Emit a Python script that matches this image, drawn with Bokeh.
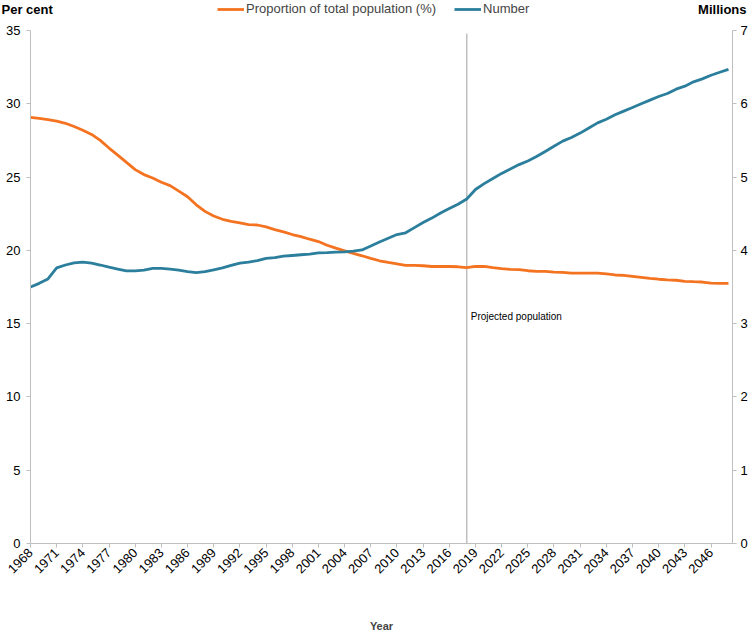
from bokeh.plotting import figure
from bokeh.layouts import column
from bokeh.models import Range1d, LinearAxis, FixedTicker, Legend, LegendItem, Label, ColumnDataSource
from bokeh.core.properties import value
from bokeh.embed import file_html
from bokeh.resources import INLINE
import math

years = list(range(1968, 2049))

proportion_pct = [
    29.08, 29.01, 28.92, 28.81, 28.67, 28.45, 28.20, 27.91, 27.50, 26.98,
    26.50, 26.00, 25.51, 25.17, 24.94, 24.65, 24.42, 24.04, 23.66, 23.11,
    22.66, 22.34, 22.12, 21.98, 21.87, 21.76, 21.73, 21.60, 21.42, 21.26,
    21.08, 20.94, 20.76, 20.60, 20.35, 20.15, 19.97, 19.79, 19.63, 19.45,
    19.29, 19.18, 19.08, 18.97, 18.97, 18.95, 18.90, 18.90, 18.90, 18.88,
    18.82, 18.90, 18.90, 18.82, 18.75, 18.70, 18.68, 18.61, 18.57, 18.57,
    18.52, 18.50, 18.45, 18.45, 18.45, 18.45, 18.39, 18.32, 18.30, 18.23,
    18.16, 18.09, 18.03, 17.98, 17.96, 17.89, 17.86, 17.84, 17.77, 17.75,
    17.75,
]

number_millions = [
    3.50, 3.55, 3.61, 3.76, 3.80, 3.83, 3.84, 3.826, 3.80, 3.77,
    3.745, 3.72, 3.72, 3.73, 3.755, 3.755, 3.745, 3.73, 3.71, 3.695,
    3.71, 3.735, 3.76, 3.795, 3.826, 3.84, 3.86, 3.89, 3.90, 3.92,
    3.93, 3.94, 3.95, 3.966, 3.97, 3.975, 3.98, 3.99, 4.006, 4.06,
    4.115, 4.166, 4.216, 4.24, 4.31, 4.38, 4.44, 4.51, 4.57, 4.63,
    4.70, 4.83, 4.91, 4.98, 5.05, 5.11, 5.17, 5.22, 5.28, 5.35,
    5.42, 5.49, 5.54, 5.60, 5.67, 5.74, 5.79, 5.85, 5.90, 5.95,
    6.00, 6.05, 6.10, 6.14, 6.20, 6.24, 6.30, 6.34, 6.39, 6.43,
    6.47,
]

x_ticks = list(range(1968, 2047, 3))
left_ticks = [0, 5, 10, 15, 20, 25, 30, 35]
right_ticks = [0, 1, 2, 3, 4, 5, 6, 7]
projection_year = 2018
projection_label = "Projected population"
series_labels = ["Proportion of total population (%)", "Number"]
left_title = "Per cent"
right_title = "Millions"
x_title = "Year"

ORANGE = "#f47321"
BLUE = "#2b7f9c"
GREY = "#bfbfbf"
FONT = "Liberation Sans"

src = ColumnDataSource(dict(year=years, pct=proportion_pct, num=number_millions))

# ---------- header strip (axis titles + legend) ----------
head = figure(width=750, height=22, output_backend="svg", toolbar_location=None,
              x_range=Range1d(0, 750), y_range=Range1d(0, 22),
              min_border_left=0, min_border_right=0, min_border_top=0, min_border_bottom=0,
              x_axis_location=None, y_axis_location=None, frame_align=False)
head.outline_line_color = None
head.xgrid.visible = False
head.ygrid.visible = False
head.extra_y_ranges = {"hidden": Range1d(1000, 1001)}
head.text(x=[1], y=[13], text=[left_title], text_font=value(FONT), text_font_size="13px",
          text_font_style="bold", text_baseline="middle", text_align="left", text_color="#000000")
head.text(x=[746], y=[13], text=[right_title], text_font=value(FONT), text_font_size="13px",
          text_font_style="bold", text_baseline="middle", text_align="right", text_color="#000000")
h_pct = head.line("year", "pct", source=src, line_color=ORANGE, line_width=2.8, y_range_name="hidden")
h_num = head.line("year", "num", source=src, line_color=BLUE, line_width=2.8, y_range_name="hidden")
legend = Legend(items=[LegendItem(label=series_labels[0], renderers=[h_pct]),
                       LegendItem(label=series_labels[1], renderers=[h_num])],
                orientation="horizontal", location=(217, 6),
                label_text_font=FONT, label_text_font_size="13px",
                glyph_width=27, glyph_height=14, label_standoff=2, spacing=18,
                padding=0, margin=0, border_line_alpha=0, background_fill_alpha=0,
                label_height=14)
head.add_layout(legend, "center")

# ---------- main chart ----------
p = figure(width=750, height=613, output_backend="svg", toolbar_location=None,
           x_range=Range1d(1968, 2048.46), y_range=Range1d(0, 35),
           min_border_left=30, min_border_right=17, min_border_top=8, min_border_bottom=89,
           x_axis_location=None, y_axis_location=None, frame_align=False)
p.extra_y_ranges = {"millions": Range1d(0, 7)}
p.outline_line_color = None
p.xgrid.visible = False
p.ygrid.visible = False

def style_axis(ax):
    ax.axis_line_color = GREY
    ax.major_tick_line_color = GREY
    ax.minor_tick_line_color = None
    ax.major_tick_in = 0
    ax.major_tick_out = 4
    ax.major_label_text_font = FONT
    ax.major_label_text_font_size = "13px"
    ax.major_label_text_color = "#000000"

xaxis = LinearAxis(ticker=FixedTicker(ticks=x_ticks))
style_axis(xaxis)
xaxis.major_label_orientation = math.pi / 4
xaxis.major_label_standoff = 3
xaxis.axis_label = x_title
xaxis.axis_label_text_font = FONT
xaxis.axis_label_text_font_size = "11px"
xaxis.axis_label_text_font_style = "bold"
xaxis.axis_label_standoff = 40
p.add_layout(xaxis, "below")

laxis = LinearAxis(ticker=FixedTicker(ticks=left_ticks))
style_axis(laxis)
laxis.major_label_standoff = 6
p.add_layout(laxis, "left")

raxis = LinearAxis(y_range_name="millions", ticker=FixedTicker(ticks=right_ticks))
style_axis(raxis)
raxis.major_label_standoff = 4
p.add_layout(raxis, "right")

p.segment(x0=[projection_year], y0=[0], x1=[projection_year], y1=[34.8],
          line_color=GREY, line_width=1.5)

p.line("year", "pct", source=src, line_color=ORANGE, line_width=2.8)
p.line("year", "num", source=src, line_color=BLUE, line_width=2.8, y_range_name="millions")

p.add_layout(Label(x=projection_year, y=15.5, x_offset=4, text=projection_label,
                   text_font=FONT, text_font_size="10px", text_color="#000000",
                   text_baseline="middle"))

layout = column(head, p, spacing=0)
open("out.html", "w").write(file_html(layout, INLINE))
